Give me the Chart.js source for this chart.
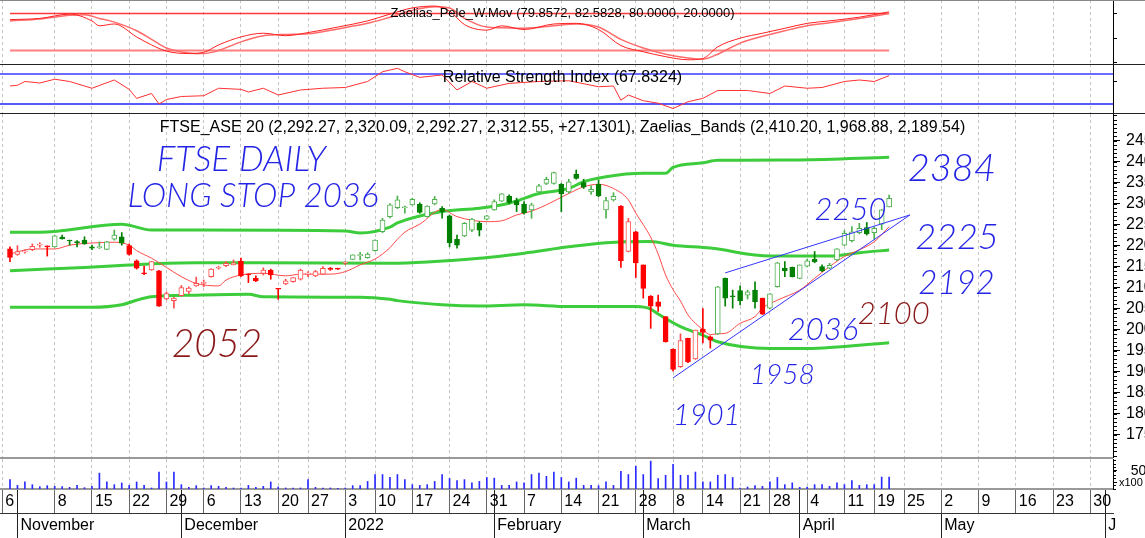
<!DOCTYPE html>
<html>
<head>
<meta charset="utf-8">
<title>FTSE_ASE 20 daily</title>
<script src="https://cdn.jsdelivr.net/npm/chart.js@4.4.1/dist/chart.umd.min.js"></script>
<style>
  html, body { margin: 0; padding: 0; background: #fff; }
  #wrap { position: relative; width: 1145px; height: 538px; overflow: hidden; background: #fff; }
  #wrap canvas { position: absolute; left: 0; }
  .rule { position: absolute; left: 0; width: 1145px; }
</style>
</head>
<body>
<div id="wrap">
  <canvas id="pele" width="1145" height="64" style="top:0"></canvas>
  <canvas id="rsi" width="1145" height="49" style="top:64px"></canvas>
  <canvas id="main" width="1145" height="344" style="top:114px"></canvas>
  <canvas id="vol" width="1145" height="80" style="top:458px"></canvas>
  <div class="rule" style="top:0;height:1px;background:#888"></div>
  <div class="rule" style="top:64px;height:1px;background:#222"></div>
  <div class="rule" style="top:113px;height:1px;background:#222"></div>
  <div class="rule" style="top:457px;height:2px;background:#999;width:1113px"></div>
</div>

<script>
// Trading days are indexed 0..118 (29 Oct 2021 .. 21 Apr 2022).
// Weekly tick positions (trading-day index) and their labels.
const weekTicks = [-1.05, 6, 11, 16, 21, 26, 31, 36, 40, 45, 49, 54, 59, 64, 69, 74, 79, 84, 89, 93, 98, 102, 107, 112, 116, 120, 125, 130, 135, 140, 145];
const weekLabels = ['6', '8', '15', '22', '29', '6', '13', '20', '27', '3', '10', '17', '24', '31', '7', '14', '21', '28', '8', '14', '21', '28', '4', '11', '19', '25', '2', '9', '16', '23', '30'];
const monthTicks = [1, 23, 45, 65, 85, 106, 125, 147];
const monthLabels = ['November', 'December', '2022', 'February', 'March', 'April', 'May', 'J'];
const priceTicks = [1750, 1800, 1850, 1900, 1950, 2000, 2050, 2100, 2150, 2200, 2250, 2300, 2350, 2400, 2450];
const oscTicks = [0, 10, 20, 30, 40, 50, 60, 70, 80, 90, 100];

// FTSE_ASE 20 OHLC
const opens = [2192, 2179, 2185, 2190, 2201, 2198, 2197, 2220, 2213, 2208,
  2213, 2197, 2195, 2191, 2215, 2221, 2200, 2164, 2135, 2142,
  2140, 2073, 2069, 2081, 2091, 2104, 2110, 2126, 2146, 2152,
  2154, 2163, 2132, 2122, 2134, 2142, 2097, 2109, 2114, 2120,
  2132, 2128, 2132, 2146, 2145, 2158, 2167, 2176, 2171, 2188,
  2233, 2269, 2290, 2290, 2297, 2299, 2269, 2299, 2289, 2271,
  2215, 2223, 2237, 2253, 2263, 2285, 2306, 2317, 2307, 2299,
  2285, 2328, 2348, 2348, 2346, 2328, 2370, 2350, 2328, 2346,
  2285, 2309, 2294, 2186, 2233, 2154, 2080, 2066, 2031, 1953,
  1912, 1979, 1930, 2001, 1983, 1990, 2122, 2080, 2093, 2082,
  2094, 2075, 2051, 2102, 2146, 2148, 2122, 2151, 2167, 2150,
  2146, 2166, 2201, 2212, 2231, 2243, 2231, 2251, 2292.27];
const highs = [2197, 2200, 2190, 2204, 2207, 2199, 2224, 2225, 2213, 2212,
  2221, 2201, 2209, 2210, 2237, 2231, 2204, 2166, 2151, 2162,
  2141, 2090, 2077, 2105, 2102, 2125, 2118, 2145, 2151, 2162,
  2166, 2170, 2133, 2128, 2147, 2144, 2098, 2120, 2124, 2144,
  2138, 2141, 2150, 2148, 2146, 2162, 2178, 2184, 2183, 2214,
  2265, 2300, 2318, 2294, 2313, 2302, 2295, 2317, 2293, 2273,
  2225, 2255, 2265, 2257, 2272, 2309, 2324, 2321, 2313, 2305,
  2301, 2346, 2363, 2375, 2348, 2358, 2380, 2358, 2342, 2356,
  2315, 2326, 2295, 2265, 2234, 2154, 2081, 2082, 2031, 1954,
  1990, 1980, 1999, 2050, 1985, 2103, 2123, 2094, 2104, 2094,
  2114, 2075, 2086, 2160, 2162, 2149, 2154, 2167, 2186, 2154,
  2158, 2193, 2236, 2245, 2253, 2255, 2245, 2286, 2320.09];
const lows = [2162, 2177, 2182, 2188, 2196, 2175, 2196, 2215, 2201, 2197,
  2203, 2190, 2193, 2190, 2213, 2201, 2177, 2144, 2131, 2141,
  2055, 2071, 2051, 2080, 2086, 2103, 2102, 2125, 2144, 2150,
  2154, 2126, 2112, 2114, 2130, 2120, 2072, 2107, 2113, 2118,
  2126, 2126, 2131, 2141, 2143, 2155, 2167, 2166, 2170, 2187,
  2231, 2266, 2288, 2277, 2296, 2277, 2268, 2297, 2265, 2197,
  2194, 2221, 2233, 2223, 2261, 2284, 2305, 2300, 2281, 2275,
  2265, 2326, 2345, 2346, 2281, 2325, 2358, 2336, 2322, 2316,
  2265, 2306, 2148, 2185, 2124, 2075, 2003, 2043, 1970, 1901,
  1910, 1921, 1929, 1968, 1956, 1988, 2056, 2051, 2059, 2073,
  2051, 2036, 2049, 2101, 2126, 2125, 2121, 2149, 2159, 2138,
  2145, 2164, 2200, 2209, 2228, 2225, 2215, 2238, 2292.27];
const closes = [2172, 2186, 2186, 2198, 2202, 2197, 2223, 2216, 2211, 2207,
  2204, 2194, 2196, 2209, 2225, 2206, 2179, 2146, 2133, 2162,
  2056, 2086, 2075, 2100, 2099, 2110, 2111, 2144, 2147, 2158,
  2159, 2128, 2130, 2116, 2142, 2130, 2096, 2116, 2124, 2142,
  2133, 2138, 2146, 2143, 2144, 2160, 2178, 2177, 2180, 2213,
  2261, 2297, 2309, 2291, 2310, 2279, 2294, 2310, 2281, 2207,
  2201, 2253, 2263, 2237, 2271, 2305, 2323, 2303, 2297, 2278,
  2297, 2342, 2358, 2374, 2323, 2352, 2360, 2339, 2334, 2318,
  2307, 2317, 2164, 2257, 2159, 2098, 2056, 2055, 1971, 1905,
  1974, 1923, 1999, 1993, 1975, 2102, 2075, 2078, 2069, 2090,
  2066, 2037, 2085, 2159, 2140, 2126, 2154, 2164, 2162, 2140,
  2153, 2192, 2229, 2233, 2241, 2228, 2241, 2285.42, 2312.55];
// trend signal per bar: g = up trend, r = down trend
const trend = ('rrrrrr' + 'gggggggggg' + 'rrrrrrrrrrrrrrrrrrrrrrrrrrrrrr' +
  'gggggggggggggggggggggggggggggggggggg' + 'rrrrrrrrrrrrr' + 'gggggg' + 'r' +
  'ggggggggggggggggg').split('');
// volume, x100
const volumes = [26, 10, 19.5, 12, 6.5, 9.3, 7.4, 6.5, 4.6, 10,
  3.7, 7.4, 44, 19.5, 12, 16.7, 10, 19.5, 10, 2.8,
  47, 19.5, 47, 12, 4.6, 9.3, 2.8, 9.3, 7.4, 4.6,
  2.8, 2.8, 10, 4.6, 7.4, 19.5, 5.5, 2.8, 2.8, 2.8,
  26, 4.6, 2.8, 2.8, 2, 2.8, 9.3, 9.3, 21, 40,
  40, 32, 40, 26, 12, 10, 12, 21, 40, 29,
  23, 26, 17, 21, 32, 30, 10, 10, 19.5, 17,
  40, 44, 35, 47, 32, 19.5, 30, 10, 10, 9.3,
  19.5, 10, 49, 40, 63, 40, 77, 29, 38, 68,
  38, 38, 47, 19.5, 19.5, 38, 40, 32, 2.8, 5.5,
  9.3, 7.4, 19.5, 32, 12, 17, 4.6, 5.5, 12, 12,
  7.4, 17, 12, 23, 10, 12, 12, 33, 33];

// Zaelias bands and the red average, read as [day, value]
const upperBand = [[0, 2232], [4, 2232], [15, 2251], [19, 2237], [25, 2237], [45, 2235], [47, 2230], [51, 2244], [52, 2254], [58, 2281], [63, 2289], [67, 2301], [71, 2324], [75, 2336], [77, 2352], [80, 2364], [85, 2372], [88, 2372], [89, 2386], [93, 2397], [95, 2403], [106, 2404], [118, 2410.2]];
const midBand = [[0, 2140], [5, 2144], [10, 2148], [16, 2154], [21, 2158], [25, 2159], [34, 2159], [51, 2158], [63, 2170], [69, 2182], [75, 2197], [80, 2207], [86, 2210], [89, 2201], [94, 2194], [102, 2175], [110, 2175], [114, 2183], [118, 2189.54]];
const lowerBand = [[0, 2053], [11, 2053], [15, 2059], [17, 2070], [19, 2078], [25, 2082], [32, 2084], [34, 2078], [47, 2077], [51, 2072], [52, 2069], [58, 2059], [63, 2056], [69, 2059], [75, 2055], [84, 2055], [86, 2049], [87, 2037], [90, 2007], [93, 1987], [95, 1971], [102, 1955], [107, 1955], [118, 1968.88]];
const redAverage = [[0, 2180], [3, 2192], [6, 2192], [8, 2201], [10, 2205], [12, 2207], [14, 2208], [16, 2201], [17, 2188], [19, 2170], [21, 2148], [23, 2126], [25, 2110], [28, 2104], [29, 2118], [31, 2130], [34, 2134], [37, 2128], [39, 2132], [43, 2132], [45, 2138], [47, 2154], [49, 2168], [50, 2180], [51, 2195], [52, 2215], [53, 2232], [55, 2251], [58, 2286], [60, 2269], [64, 2257], [66, 2259], [68, 2273], [70, 2282], [72, 2297], [75, 2324], [77, 2340], [79, 2346], [81, 2336], [83, 2309], [84, 2277], [85, 2250], [86, 2220], [87, 2180], [88, 2130], [89, 2095], [90, 2068], [91, 2035], [92, 2015], [93, 2000], [94, 1988], [95, 1990], [96, 1991], [98, 2015], [100, 2031], [101, 2051], [103, 2070], [106, 2094], [108, 2122], [110, 2150], [112, 2174], [114, 2190], [116, 2209], [118, 2245]];
// hand drawn trend lines
const supportLine = [[89, 1885], [120.8, 2273]];
const channelLine = [[96, 2135], [120.8, 2273]];

// Zaelias_Pele_W.Mov
const peleFast = [[0, 70], [4, 72], [8, 79], [11, 68], [12, 60], [14, 63], [17, 42], [19, 29], [21, 19], [24, 15], [26, 17], [28, 29], [31, 42], [34, 48], [37, 44], [40, 49], [44, 58], [48, 68], [51, 79], [54, 89], [57, 92], [59, 84], [61, 62], [64, 53], [66, 60], [69, 54], [73, 63], [76, 64], [79, 54], [82, 28], [85, 18], [88, 10], [91, 5], [93, 7], [95, 26], [98, 40], [101, 48], [104, 56], [107, 64], [110, 68], [114, 74], [118, 82.58]];
const peleSlow = [[0, 68], [4, 71], [8, 77], [10, 78], [12, 72], [14, 66], [17, 52], [19, 38], [21, 24], [24, 16], [26, 15], [28, 20], [31, 34], [34, 44], [37, 46], [40, 47], [44, 55], [48, 64], [51, 74], [54, 85], [57, 91], [59, 89], [61, 72], [64, 58], [66, 57], [69, 56], [73, 60], [76, 63], [79, 58], [82, 38], [85, 24], [88, 14], [91, 8], [93, 6], [95, 14], [98, 32], [101, 43], [104, 52], [107, 60], [110, 65], [114, 72], [118, 79.86]];
const peleLevels = [80, 20];

// Relative Strength Index
const rsiValues = [[0, 54], [1, 55], [2, 60], [4, 58], [6, 63], [8, 60], [11, 51], [14, 62], [16, 49.5], [17, 37.5], [19, 44], [20, 30], [21, 36], [23, 40], [26, 41], [28, 51], [31, 49.5], [32, 46], [34, 51], [36, 42], [39, 48.7], [42, 51], [45, 52], [48, 60], [50, 73], [52, 77.6], [53, 73], [55, 65.5], [58, 68.7], [60, 48.7], [62, 60], [64, 51], [67, 57.5], [71, 60], [75, 61], [79, 53], [81, 54], [82, 35], [83, 42], [85, 34.4], [87, 31], [89, 24], [91, 33], [93, 37.5], [95, 48], [99, 48], [102, 44], [104, 54], [107, 51], [109, 52], [112, 60], [114, 62], [116, 60], [118, 67.83]];
const rsiLevels = [70, 30];

// axis ranges so that every panel shares one day grid
const X_MIN = -1.342;
const X_MAX = 148.05;

Chart.defaults.font.family = '"Liberation Sans", Arial, sans-serif';
Chart.defaults.animation = false;
Chart.defaults.plugins.legend.display = false;
Chart.defaults.plugins.tooltip.enabled = false;

const days = opens.map((o, i) => i);
const pts = (list) => list.map(([x, y]) => ({ x, y }));
const across = (v, a, b) => [{ x: a, y: v }, { x: b, y: v }];

// short unlabeled ticks on the right axis
const minorTicks = {
  id: 'minorTicks',
  afterDraw(chart, args, opts) {
    if (!opts.step) return;
    const s = chart.scales.y;
    const ctx = chart.ctx;
    ctx.save();
    ctx.strokeStyle = '#000';
    ctx.lineWidth = 1;
    for (let v = Math.ceil(s.min / opts.step) * opts.step; v <= s.max; v += opts.step) {
      const y = Math.round(s.getPixelForValue(v)) + 0.5;
      ctx.beginPath();
      ctx.moveTo(s.left, y);
      ctx.lineTo(s.left + opts.len, y);
      ctx.stroke();
    }
    ctx.restore();
  }
};

// panel caption plus the hand written notes
const notes = {
  id: 'notes',
  afterDraw(chart, args, opts) {
    const ctx = chart.ctx;
    const area = chart.chartArea;
    ctx.save();
    if (opts.title) {
      ctx.font = opts.titleFont;
      ctx.fillStyle = '#000';
      ctx.textAlign = 'center';
      ctx.textBaseline = 'middle';
      ctx.fillText(opts.title, (area.left + area.right) / 2 + 6, area.top + opts.titleOffset);
    }
    (opts.items || []).forEach((n) => {
      ctx.font = `italic 300 ${n.size}px Lato`;
      ctx.fillStyle = n.color;
      ctx.textAlign = 'left';
      ctx.textBaseline = 'middle';
      ctx.fillText(n.text, chart.scales.x.getPixelForValue(n.day), chart.scales.y.getPixelForValue(n.price));
    });
    ctx.restore();
  }
};

Chart.register(minorTicks, notes);

// week lines everywhere; the labelled axis also gets the month boundaries
function weekAxis(showLabels) {
  const tickValues = showLabels
    ? Array.from(new Set(weekTicks.concat(monthTicks))).sort((a, b) => a - b)
    : weekTicks;
  const isWeek = (v) => weekTicks.indexOf(v) >= 0;
  return {
    type: 'linear',
    min: X_MIN,
    max: X_MAX,
    offset: false,
    weight: 0,
    afterBuildTicks: (axis) => { axis.ticks = tickValues.map((v) => ({ value: v })); },
    afterFit: (axis) => {
      axis.height = showLabels ? 24 : 0;
      axis.paddingLeft = 0;
      axis.paddingRight = 0;
    },
    grid: {
      offset: false,
      color: (c) => (c.tick && !isWeek(c.tick.value)) ? 'rgba(0,0,0,0)' : '#c4c4c4',
      drawTicks: showLabels, tickLength: 24,
      tickColor: (c) => (c.tick && isWeek(c.tick.value)) ? '#666' : '#222',
      tickBorderDash: []
    },
    border: { display: showLabels, dash: [3, 3], color: '#999', width: 2 },
    ticks: {
      display: showLabels, autoSkip: false, maxRotation: 0, align: 'start', labelOffset: 3,
      padding: -21, color: '#000', font: { size: 16 },
      callback: (v) => isWeek(v) ? weekLabels[weekTicks.indexOf(v)] : ''
    }
  };
}

// fixed width right axis without the automatic top/bottom padding
const fitRight = (axis) => {
  axis.width = 32;
  axis.paddingTop = 0;
  axis.paddingBottom = 0;
};

function rightAxis(min, max) {
  return {
    position: 'right',
    min: min,
    max: max,
    afterFit: fitRight,
    afterBuildTicks: (axis) => { axis.ticks = oscTicks.map((v) => ({ value: v })); },
    grid: { drawOnChartArea: false, tickLength: 4, tickColor: '#000' },
    border: { color: '#000' },
    ticks: { callback: () => '' }
  };
}

const lineSet = (data, color, width, extra) => Object.assign({
  type: 'line', data: data, borderColor: color, borderWidth: width,
  pointRadius: 0, fill: false, cubicInterpolationMode: 'monotone'
}, extra);

const baseOptions = {
  responsive: false,
  layout: { padding: 0, autoPadding: false }
};

// top panel: Zaelias_Pele_W.Mov
new Chart(document.getElementById('pele'), {
  type: 'line',
  data: {
    datasets: [
      lineSet(pts(peleFast), '#ff2020', 1),
      lineSet(pts(peleSlow), '#ff6a6a', 1.5),
      lineSet(across(peleLevels[0], 0, 118), '#ff3a3a', 1.5, { cubicInterpolationMode: 'default' }),
      lineSet(across(peleLevels[1], 0, 118), '#ff8080', 2, { cubicInterpolationMode: 'default' })
    ]
  },
  options: Object.assign({}, baseOptions, {
    scales: { x: weekAxis(false), y: rightAxis(-1.88, 101.85) },
    plugins: { notes: { title: 'Zaelias_Pele_W.Mov (79.8572, 82.5828, 80.0000, 20.0000)', titleFont: '13px "Liberation Sans"', titleOffset: 13 } }
  })
});

// second panel: RSI
new Chart(document.getElementById('rsi'), {
  type: 'line',
  data: {
    datasets: [
      lineSet(pts(rsiValues), '#ff3030', 1, { cubicInterpolationMode: 'default' }),
      lineSet(across(rsiLevels[0], X_MIN, X_MAX), '#3a3aff', 1.5, { cubicInterpolationMode: 'default' }),
      lineSet(across(rsiLevels[1], X_MIN, X_MAX), '#2020ff', 1.5, { cubicInterpolationMode: 'default' })
    ]
  },
  options: Object.assign({}, baseOptions, {
    scales: { x: weekAxis(false), y: rightAxis(18, 83.33) },
    plugins: { notes: { title: 'Relative Strength Index (67.8324)', titleFont: '16px "Liberation Sans"', titleOffset: 14 } }
  })
});

// candle colours
const isUp = (i) => closes[i] > opens[i];
const edgeColor = (i) => trend[i] === 'g' ? (isUp(i) ? '#4fb04f' : '#008000') : (isUp(i) ? '#ff4d4d' : '#ff0000');
const bodyColor = (i) => isUp(i) ? '#ffffff' : edgeColor(i);

const blue = '#2424e6';
const darkRed = '#8a1818';

// main panel: candles, bands, average
new Chart(document.getElementById('main'), {
  type: 'bar',
  data: {
    datasets: [
      {
        type: 'bar', order: 0, grouped: false,
        data: days.map((i) => ({ x: i, y: [Math.min(opens[i], closes[i]), Math.max(opens[i], closes[i])] })),
        barThickness: 5, minBarLength: 1, borderWidth: 1, borderSkipped: false,
        backgroundColor: (c) => bodyColor(c.dataIndex),
        borderColor: (c) => edgeColor(c.dataIndex)
      },
      {
        type: 'bar', order: 1, grouped: false,
        data: days.map((i) => ({ x: i, y: [lows[i], highs[i]] })),
        barThickness: 1, borderWidth: 0,
        backgroundColor: (c) => edgeColor(c.dataIndex)
      },
      lineSet(pts(supportLine), '#3434ff', 1, { order: -1, cubicInterpolationMode: 'default' }),
      lineSet(pts(channelLine), '#3434ff', 1, { order: -1, cubicInterpolationMode: 'default' }),
      lineSet(pts(redAverage), '#ff4a4a', 1, { order: 2 }),
      lineSet(pts(upperBand), '#3ccc3c', 3, { order: 3 }),
      lineSet(pts(midBand), '#3ccc3c', 3, { order: 3 }),
      lineSet(pts(lowerBand), '#3ccc3c', 3, { order: 3 })
    ]
  },
  options: Object.assign({}, baseOptions, {
    scales: {
      x: weekAxis(false),
      y: {
        position: 'right',
        min: 1694.3,
        max: 2513.3,
        afterFit: fitRight,
        afterBuildTicks: (axis) => { axis.ticks = priceTicks.map((v) => ({ value: v })); },
        grid: { drawOnChartArea: false, tickLength: 7, tickColor: '#000' },
        border: { color: '#000' },
        ticks: { padding: 6, color: '#000', font: { size: 16 }, callback: (v) => String(v) }
      }
    },
    plugins: {
      minorTicks: { step: 10, len: 4 },
      notes: {
        title: 'FTSE_ASE 20 (2,292.27, 2,320.09, 2,292.27, 2,312.55, +27.1301), Zaelias_Bands (2,410.20, 1,968.88, 2,189.54)',
        titleFont: '16px "Liberation Sans"',
        titleOffset: 14,
        items: [
          { text: 'FTSE DAILY', day: 19.7, price: 2404, size: 35, color: blue },
          { text: 'LONG STOP 2036', day: 15.8, price: 2318, size: 33, color: blue },
          { text: '2384', day: 120.5, price: 2382, size: 38, color: blue },
          { text: '2250', day: 108, price: 2285, size: 31, color: blue },
          { text: '2225', day: 121.5, price: 2220, size: 36, color: blue },
          { text: '2192', day: 121.9, price: 2111, size: 33, color: blue },
          { text: '2100', day: 113.8, price: 2036, size: 31, color: darkRed },
          { text: '2036', day: 104.4, price: 2000, size: 31, color: blue },
          { text: '1958', day: 99.3, price: 1892, size: 28, color: blue },
          { text: '1901', day: 89, price: 1795, size: 29, color: blue },
          { text: '2052', day: 21.7, price: 1964, size: 39, color: darkRed }
        ]
      }
    }
  })
});

// bottom panel: volume plus the date axis
new Chart(document.getElementById('vol'), {
  type: 'bar',
  data: {
    datasets: [{
      data: days.map((i) => ({ x: i, y: volumes[i] })),
      barThickness: 1, grouped: false, borderWidth: 0, backgroundColor: '#2a2aff'
    }]
  },
  options: Object.assign({}, baseOptions, {
    layout: { padding: { top: 1 }, autoPadding: false },
    scales: {
      x: weekAxis(true),
      x2: {
        type: 'linear',
        position: 'bottom',
        min: X_MIN,
        max: X_MAX,
        offset: false,
        weight: 1,
        afterBuildTicks: (axis) => { axis.ticks = monthTicks.map((v) => ({ value: v })); },
        afterFit: (axis) => {
          axis.height = 25;
          axis.paddingLeft = 0;
          axis.paddingRight = 0;
        },
        grid: { offset: false, drawOnChartArea: false, tickLength: 25, tickColor: '#222' },
        border: { color: '#333' },
        ticks: {
          autoSkip: false, maxRotation: 0, align: 'start', labelOffset: 3, padding: -22,
          color: '#000', font: { size: 16 }, callback: (v, i) => monthLabels[i]
        }
      },
      y: {
        position: 'right',
        min: 0,
        max: 83,
        afterFit: fitRight,
        afterBuildTicks: (axis) => { axis.ticks = [{ value: 16.7 }, { value: 50 }]; },
        grid: { drawOnChartArea: false, tickLength: 4, tickColor: '#000' },
        border: { color: '#000' },
        ticks: {
          padding: 2, color: '#000',
          font: (c) => ({ size: c.tick && c.tick.value > 20 ? 14 : 11 }),
          callback: (v) => v > 20 ? '   50' : 'x100'
        }
      }
    },
    plugins: { minorTicks: { step: 10, len: 3 } }
  })
});
</script>
</body>
</html>
